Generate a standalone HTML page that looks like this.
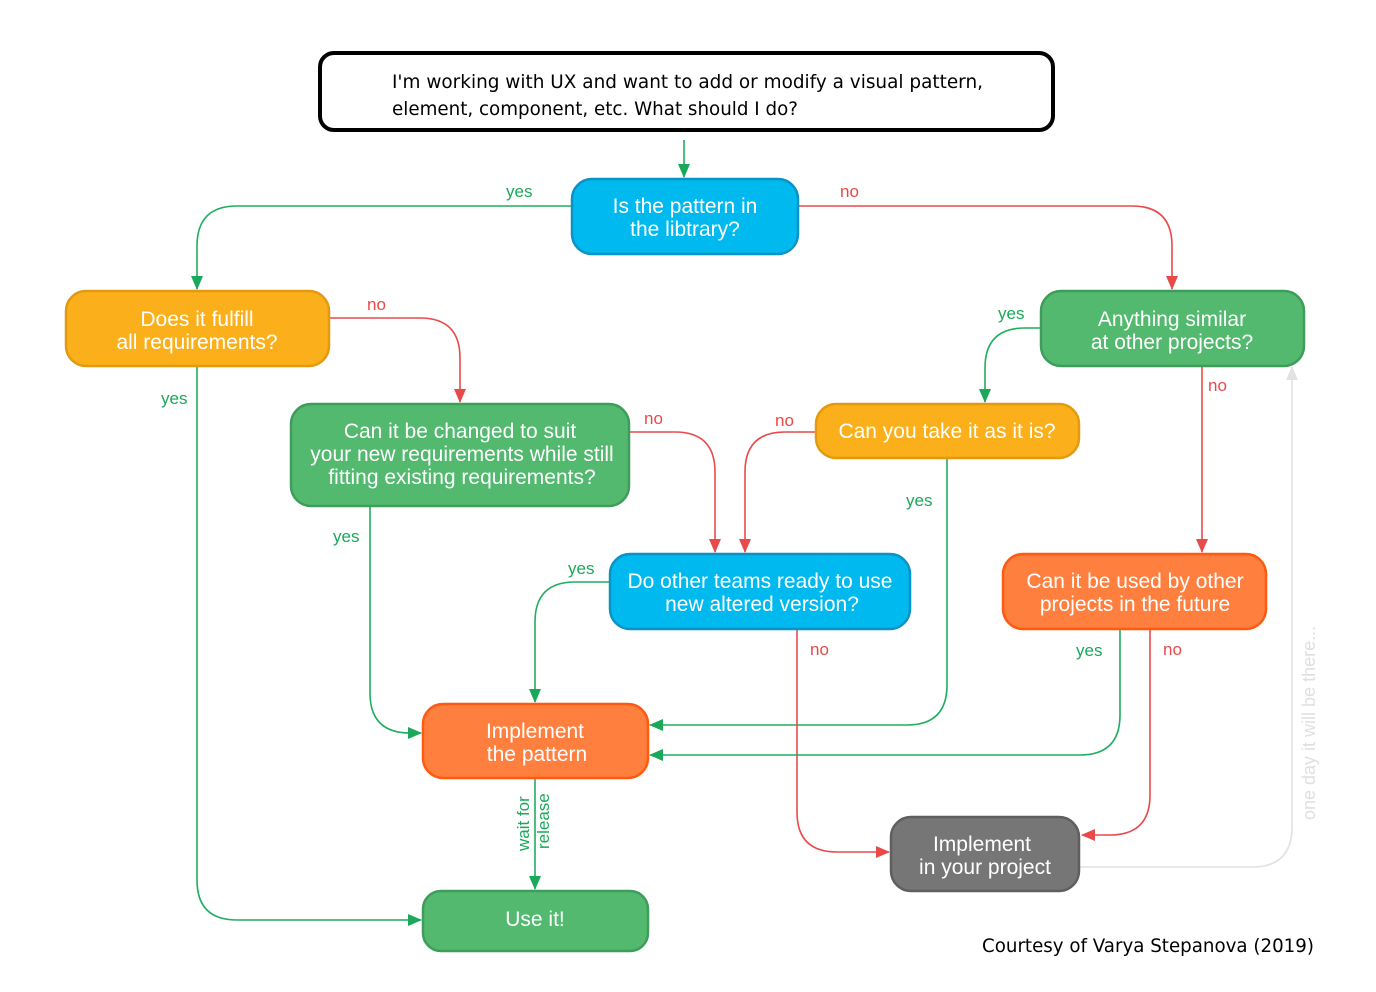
<!DOCTYPE html>
<html><head><meta charset="utf-8"><style>
html,body{margin:0;padding:0;background:#fff;}
svg text{font-family:"Liberation Sans",Arial,sans-serif;}
.n{fill:#fff;font-size:21px;text-anchor:middle;}
.g{fill:#1aa85a;font-size:17px;}
.r{fill:#e84a4a;font-size:17px;}
.lg{fill:none;stroke:#1fae5f;stroke-width:1.6;}
.lr{fill:none;stroke:#e84a4a;stroke-width:1.6;}
</style></head><body>
<svg width="1376" height="987" viewBox="0 0 1376 987" xmlns="http://www.w3.org/2000/svg">
<defs>
<marker id="ag" markerWidth="14" markerHeight="14" refX="13" refY="7" orient="auto" markerUnits="userSpaceOnUse"><path d="M0,1 L14,7 L0,13z" fill="#1aa85a"/></marker>
<marker id="ar" markerWidth="14" markerHeight="14" refX="13" refY="7" orient="auto" markerUnits="userSpaceOnUse"><path d="M0,1 L14,7 L0,13z" fill="#e84a4a"/></marker>
<marker id="ae" markerWidth="14" markerHeight="14" refX="13" refY="7" orient="auto" markerUnits="userSpaceOnUse"><path d="M0,1 L14,7 L0,13z" fill="#e2e2e2"/></marker>
</defs>

<path class="lg" d="M684 140 V177" marker-end="url(#ag)"/>
<path class="lg" d="M572 206 H237 Q197 206 197 246 V289" marker-end="url(#ag)"/>
<path class="lr" d="M798 206 H1132 Q1172 206 1172 246 V289" marker-end="url(#ar)"/>
<path class="lr" d="M329 318 H420 Q460 318 460 358 V402" marker-end="url(#ar)"/>
<path class="lg" d="M197 366 V880 Q197 920 237 920 H421" marker-end="url(#ag)"/>
<path class="lg" d="M1041 328 H1025 Q985 328 985 368 V402" marker-end="url(#ag)"/>
<path class="lr" d="M1202 366 V552" marker-end="url(#ar)"/>
<path class="lr" d="M629 432 H675 Q715 432 715 472 V552" marker-end="url(#ar)"/>
<path class="lr" d="M816 432 H785 Q745 432 745 472 V552" marker-end="url(#ar)"/>
<path class="lg" d="M370 506 V693 Q370 733 410 733 H421" marker-end="url(#ag)"/>
<path class="lg" d="M947 458 V685 Q947 725 907 725 H650" marker-end="url(#ag)"/>
<path class="lg" d="M610 582 H575 Q535 582 535 622 V702" marker-end="url(#ag)"/>
<path class="lr" d="M797 629 V812 Q797 852 837 852 H889" marker-end="url(#ar)"/>
<path class="lg" d="M1120 629 V715 Q1120 755 1080 755 H650" marker-end="url(#ag)"/>
<path class="lr" d="M1150 629 V795 Q1150 835 1110 835 H1082" marker-end="url(#ar)"/>
<path class="lg" d="M535 778 V889" marker-end="url(#ag)"/>
<path fill="none" stroke="#e2e2e2" stroke-width="1.6" d="M1079 867 H1252 Q1292 867 1292 827 V367" marker-end="url(#ae)"/>

<rect x="320" y="53" width="733" height="77" rx="14" fill="#fff" stroke="#000" stroke-width="4"/>
<text x="392" y="88" style="font-family:'DejaVu Sans',sans-serif" font-size="19" fill="#000" textLength="591" lengthAdjust="spacingAndGlyphs">I'm working with UX and want to add or modify a visual pattern,</text>
<text x="392" y="115" style="font-family:'DejaVu Sans',sans-serif" font-size="19" fill="#000" textLength="406" lengthAdjust="spacingAndGlyphs">element, component, etc. What should I do?</text>

<rect x="572" y="179" width="226" height="75" rx="20" fill="#00b9ef" stroke="#0a93c6" stroke-width="2.5"/>
<text class="n" x="685" y="213">Is the pattern in</text><text class="n" x="685" y="236">the libtrary?</text>

<rect x="66" y="291" width="263" height="75" rx="20" fill="#fbb01b" stroke="#e39a0f" stroke-width="2.5"/>
<text class="n" x="197" y="326">Does it fulfill</text><text class="n" x="197" y="349">all requirements?</text>

<rect x="1041" y="291" width="263" height="75" rx="20" fill="#52b96f" stroke="#3e9d5a" stroke-width="2.5"/>
<text class="n" x="1172" y="326">Anything similar</text><text class="n" x="1172" y="349">at other projects?</text>

<rect x="291" y="404" width="338" height="102" rx="20" fill="#52b96f" stroke="#3e9d5a" stroke-width="2.5"/>
<text class="n" x="460" y="438">Can it be changed to suit</text><text class="n" x="462" y="461">your new requirements while still</text><text class="n" x="462" y="484">fitting existing requirements?</text>

<rect x="816" y="404" width="263" height="54" rx="20" fill="#fbb01b" stroke="#e39a0f" stroke-width="2.5"/>
<text class="n" x="947" y="438">Can you take it as it is?</text>

<rect x="610" y="554" width="300" height="75" rx="20" fill="#00b9ef" stroke="#0a93c6" stroke-width="2.5"/>
<text class="n" x="760" y="588">Do other teams ready to use</text><text class="n" x="762" y="611">new altered version?</text>

<rect x="1003" y="554" width="263" height="75" rx="20" fill="#ff7f3f" stroke="#ff5a10" stroke-width="2.5"/>
<text class="n" x="1135" y="588">Can it be used by other</text><text class="n" x="1135" y="611">projects in the future</text>

<rect x="423" y="704" width="225" height="74" rx="20" fill="#ff7f3f" stroke="#ff5a10" stroke-width="2.5"/>
<text class="n" x="535" y="738">Implement</text><text class="n" x="537" y="761">the pattern</text>

<rect x="891" y="817" width="188" height="74" rx="20" fill="#767676" stroke="#5f5f5f" stroke-width="2.5"/>
<text class="n" x="982" y="851">Implement</text><text class="n" x="985" y="874">in your project</text>

<rect x="423" y="891" width="225" height="60" rx="18" fill="#52b96f" stroke="#3e9d5a" stroke-width="2.5"/>
<text class="n" x="535" y="926">Use it!</text>

<text class="g" x="506" y="197">yes</text>
<text class="r" x="840" y="197">no</text>
<text class="r" x="367" y="310">no</text>
<text class="g" x="998" y="319">yes</text>
<text class="r" x="1208" y="391">no</text>
<text class="g" x="161" y="404">yes</text>
<text class="r" x="644" y="424">no</text>
<text class="r" x="775" y="426">no</text>
<text class="g" x="906" y="506">yes</text>
<text class="g" x="333" y="542">yes</text>
<text class="g" x="568" y="574">yes</text>
<text class="r" x="810" y="655">no</text>
<text class="g" x="1076" y="656">yes</text>
<text class="r" x="1163" y="655">no</text>
<text class="g" transform="translate(529,851) rotate(-90)">wait for</text>
<text class="g" transform="translate(549,849) rotate(-90)">release</text>
<text transform="translate(1315,820) rotate(-90)" font-size="18" fill="#e0e0e0">one day it will be there...</text>

<text x="982" y="952" style="font-family:'DejaVu Sans',sans-serif" font-size="19" fill="#000" textLength="332" lengthAdjust="spacingAndGlyphs">Courtesy of Varya Stepanova (2019)</text>
</svg>
</body></html>
